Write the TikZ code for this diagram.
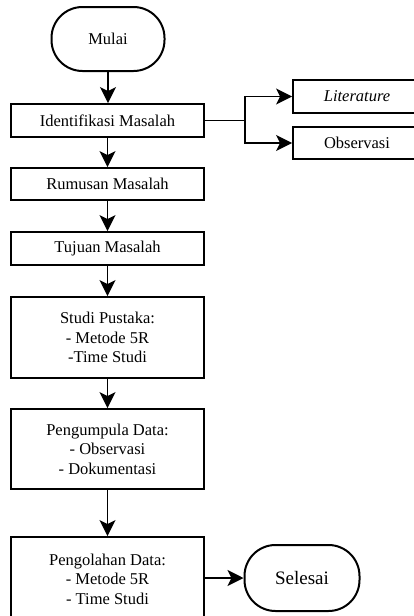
\documentclass[tikz,border=0pt]{standalone}
\usepackage{fontspec}
\setmainfont{Liberation Serif}
\usetikzlibrary{arrows.meta}
\begin{document}
\begin{tikzpicture}[x=1pt,y=-1pt,
  every node/.style={font=\fontsize{16.5}{19.5}\selectfont, inner sep=0pt, align=center},
  box/.style={draw, line width=1.8pt, rectangle, minimum width=193pt},
  term/.style={draw, line width=2pt, rounded corners=31pt},
  arr/.style={line width=1.8pt, -{Stealth[length=16pt,width=16pt,inset=4pt]}},
  conn/.style={line width=1.8pt}]
\useasboundingbox (0,0) rectangle (414,616);
\clip (0,0) rectangle (414,616);
\fill[white] (0,0) rectangle (414,616);

\node[term, minimum width=113pt, minimum height=64pt] (mulai) at (108,39) {Mulai};
\node[box, minimum height=33pt] (ident) at (107.5,120.5) {Identifikasi Masalah};
\node[box, minimum height=32pt] (rumus) at (107.5,184) {Rumusan Masalah};
\node[box, minimum height=33pt] (tujuan) at (107.5,248.5) {Tujuan Masalah};
\node[box, minimum height=81pt] (studi) at (107.5,337.5) {Studi Pustaka:\\- Metode 5R\\-Time Studi};
\node[box, minimum height=80pt] (kumpul) at (107.5,449) {Pengumpula Data:\\- Observasi\\- Dokumentasi};
\node[box, minimum height=84pt] (olah) at (107.5,579) {Pengolahan Data:\\- Metode 5R\\- Time Studi};
\node[term, minimum width=115pt, minimum height=66pt, font=\fontsize{19}{22}\selectfont] (selesai) at (302,578) {Selesai};
\node[box, minimum width=128pt, minimum height=33pt] (lit) at (357,96.5) {\textit{Literature}};
\node[box, minimum width=128pt, minimum height=32pt] (obs) at (357,143) {Observasi};
\coordinate (br) at (245,120.5);

\draw[arr] (mulai.south) -- (mulai.south |- ident.north);
\draw[arr] (ident) -- (rumus);
\draw[arr] (rumus) -- (tujuan);
\draw[arr] (tujuan) -- (studi);
\draw[arr] (studi) -- (kumpul);
\draw[arr] (kumpul) -- (olah);
\draw[arr] (olah.east |- selesai.west) -- (selesai.west);
\draw[conn] (ident.east) -- (br);
\draw[arr] (br) |- (lit.west);
\draw[arr] (br) |- (obs.west);
\end{tikzpicture}
\end{document}
